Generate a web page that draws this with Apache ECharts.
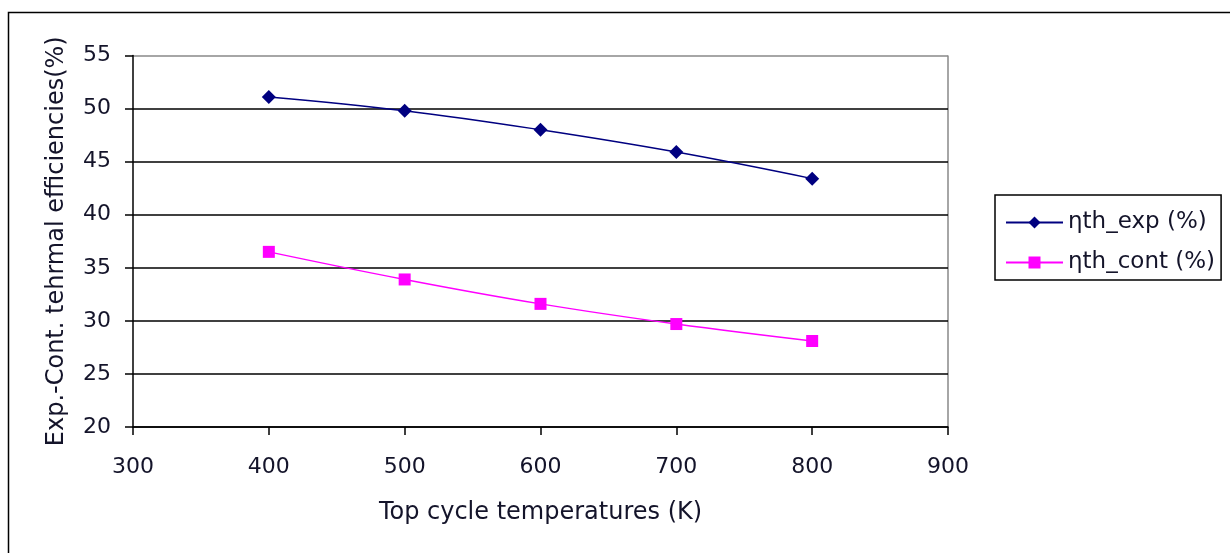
<!DOCTYPE html>
<html>
<head>
<meta charset="utf-8">
<script src="https://cdn.jsdelivr.net/npm/echarts@6/dist/echarts.min.js"></script>
<style>
  html, body { margin: 0; padding: 0; background: #fff; }
  #chart { width: 1230px; height: 553px; }
</style>
</head>
<body>
<div id="chart"></div>
<script>
  var temperatures = [400, 500, 600, 700, 800];
  var effExp = [51.1, 49.8, 48.0, 45.9, 43.4];
  var effCont = [36.5, 33.9, 31.6, 29.7, 28.1];
  var seriesNames = ['ηth_exp (%)', 'ηth_cont (%)'];

  function pairs(xs, ys) {
    return xs.map(function (x, i) { return [x, ys[i]]; });
  }

  var font = 'DejaVu Sans, Verdana, sans-serif';
  var ink = '#14142a';
  var chart = echarts.init(document.getElementById('chart'));

  chart.setOption({
    animation: false,
    backgroundColor: '#fff',
    textStyle: { fontFamily: font, color: ink },
    graphic: [
      {
        type: 'rect',
        shape: { x: 8.5, y: 12.5, width: 1240, height: 560 },
        style: { fill: 'none', stroke: '#000', lineWidth: 1.5 }
      },
      {
        // right edge of the plot area is grey in the original
        type: 'line',
        shape: { x1: 948, y1: 55.5, x2: 948, y2: 427 },
        style: { stroke: '#888', lineWidth: 1.5 },
        z: 0
      }
    ],
    grid: { left: 133, right: 282, top: 55.5, bottom: 126 },
    legend: {
      orient: 'vertical',
      left: 995,
      top: 195,
      padding: [16, 6, 6, 10],
      itemGap: 17,
      itemWidth: 57,
      itemHeight: 15,
      borderColor: '#000',
      borderWidth: 1.5,
      textStyle: { fontSize: 23, color: ink, fontFamily: font },
      data: seriesNames
    },
    xAxis: {
      type: 'value',
      min: 300,
      max: 900,
      interval: 100,
      name: 'Top cycle temperatures (K)',
      nameLocation: 'middle',
      nameGap: 74,
      nameTextStyle: { fontSize: 24, color: ink, fontFamily: font },
      axisLine: { lineStyle: { color: '#000', width: 1.5 } },
      axisTick: { inside: false, length: 8, lineStyle: { color: '#000', width: 1.5 } },
      axisLabel: { fontSize: 22, color: ink, fontFamily: font, margin: 29 },
      splitLine: { show: false }
    },
    yAxis: {
      type: 'value',
      min: 20,
      max: 55,
      interval: 5,
      name: 'Exp.-Cont. tehrmal efficiencies(%)',
      nameLocation: 'middle',
      nameGap: 64,
      nameTextStyle: { fontSize: 24, color: ink, fontFamily: font },
      axisLine: { show: true, lineStyle: { color: '#000', width: 1.5 } },
      axisTick: { show: true, length: 8, lineStyle: { color: '#000', width: 1.5 } },
      axisLabel: { fontSize: 22, color: ink, fontFamily: font, margin: 22 },
      splitLine: {
        lineStyle: {
          color: ['#000', '#000', '#000', '#000', '#000', '#000', '#000', '#888'],
          width: 1.5
        }
      }
    },
    series: [
      {
        name: seriesNames[0],
        type: 'line',
        smooth: 0.4,
        data: pairs(temperatures, effExp),
        symbol: 'diamond',
        symbolSize: 14,
        itemStyle: { color: '#000080' },
        lineStyle: { color: '#000080', width: 1.5 },
        z: 3
      },
      {
        name: seriesNames[1],
        type: 'line',
        smooth: 0.4,
        data: pairs(temperatures, effCont),
        symbol: 'rect',
        symbolSize: 12,
        itemStyle: { color: '#ff00ff' },
        lineStyle: { color: '#ff00ff', width: 1.5 },
        z: 3
      }
    ]
  });
</script>
</body>
</html>
